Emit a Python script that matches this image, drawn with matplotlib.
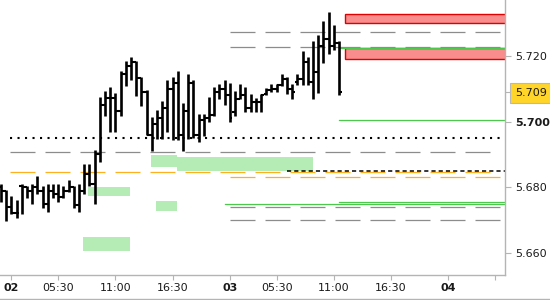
import matplotlib
matplotlib.use('Agg')
import matplotlib.pyplot as plt
from matplotlib.lines import Line2D
from matplotlib.patches import Rectangle

plt.rcParams['font.family'] = ['DejaVu Sans']
plt.rcParams['lines.scale_dashes'] = False

# OHLC bars (30 min)
opens = [5.6800, 5.6790, 5.6741, 5.6723, 5.6805, 5.6800, 5.6790, 5.6800, 5.6790, 5.6750,
         5.6790, 5.6780, 5.6770, 5.6790, 5.6800, 5.6745, 5.6790, 5.6840, 5.6810, 5.6900,
         5.7051, 5.7072, 5.7071, 5.7033, 5.7145, 5.7169, 5.7181, 5.7133, 5.7090, 5.6960,
         5.6993, 5.7011, 5.7041, 5.7100, 5.7118, 5.6960, 5.7033, 5.7118, 5.6960, 5.7005,
         5.7010, 5.7020, 5.7090, 5.7100, 5.7080, 5.7030, 5.7070, 5.7080, 5.7040, 5.7060,
         5.7060, 5.7085, 5.7095, 5.7100, 5.7110, 5.7130, 5.7100, 5.7120, 5.7130, 5.7180,
         5.7120, 5.7150, 5.7230, 5.7250, 5.7230, 5.7240]
highs = [5.6810, 5.6792, 5.6774, 5.6762, 5.6810, 5.6804, 5.6810, 5.6835, 5.6804, 5.6810,
         5.6810, 5.6810, 5.6804, 5.6822, 5.6804, 5.6810, 5.6871, 5.6871, 5.6914, 5.7076,
         5.7094, 5.7106, 5.7087, 5.7155, 5.7184, 5.7198, 5.7185, 5.7137, 5.7096, 5.7015,
         5.7035, 5.7064, 5.7125, 5.7137, 5.7155, 5.7056, 5.7145, 5.7125, 5.7023, 5.7023,
         5.7076, 5.7104, 5.7114, 5.7125, 5.7118, 5.7093, 5.7114, 5.7105, 5.7083, 5.7073,
         5.7083, 5.7101, 5.7114, 5.7114, 5.7146, 5.7136, 5.7115, 5.7144, 5.7215, 5.7198,
         5.7245, 5.7264, 5.7306, 5.7334, 5.7294, 5.7245]
lows = [5.6756, 5.6696, 5.6719, 5.6707, 5.6719, 5.6768, 5.6749, 5.6780, 5.6737, 5.6725,
        5.6768, 5.6756, 5.6768, 5.6787, 5.6737, 5.6725, 5.6780, 5.6804, 5.6749, 5.6878,
        5.7017, 5.6969, 5.6969, 5.7017, 5.7108, 5.7125, 5.7078, 5.7048, 5.6958, 5.6909,
        5.6946, 5.6946, 5.6969, 5.6944, 5.6944, 5.6909, 5.6946, 5.6949, 5.6939, 5.6956,
        5.7000, 5.7017, 5.7068, 5.7051, 5.7000, 5.7018, 5.7069, 5.7030, 5.7030, 5.7030,
        5.7030, 5.7081, 5.7089, 5.7091, 5.7109, 5.7085, 5.7069, 5.7111, 5.7111, 5.7111,
        5.7069, 5.7086, 5.7177, 5.7205, 5.7218, 5.7081]
closes = [5.6790, 5.6741, 5.6723, 5.6723, 5.6800, 5.6790, 5.6800, 5.6790, 5.6750, 5.6790,
          5.6780, 5.6770, 5.6790, 5.6800, 5.6745, 5.6790, 5.6840, 5.6810, 5.6900, 5.7051,
          5.7072, 5.7071, 5.7033, 5.7145, 5.7169, 5.7181, 5.7133, 5.7090, 5.6960, 5.6993,
          5.7011, 5.7041, 5.7100, 5.7118, 5.6960, 5.7033, 5.7118, 5.6960, 5.7005, 5.7010,
          5.7020, 5.7090, 5.7100, 5.7080, 5.7010, 5.7070, 5.7080, 5.7040, 5.7060, 5.7060,
          5.7080, 5.7095, 5.7100, 5.7110, 5.7130, 5.7100, 5.7090, 5.7130, 5.7180, 5.7120,
          5.7150, 5.7230, 5.7250, 5.7230, 5.7240, 5.7090]
last_price = 5.709

# x axis (bar index)
tick_idx = [2, 11, 22, 33, 44, 53, 64, 75, 86, 95]
tick_lbl = ['02', '05:30', '11:00', '16:30', '03', '05:30', '11:00', '16:30', '04', '']
day_lbl = ['02', '03', '04']
price_ticks = [5.660, 5.680, 5.700, 5.720]

# levels: (price, start idx, end idx)
dotted_lvl = [(5.6949, 1.7, 96.0)]
gray_lvls = [(5.6907, 1.7, 96.0), (5.7272, 44.0, 96.0), (5.7226, 44.0, 96.0),
             (5.6741, 44.0, 96.0), (5.6700, 44.0, 96.0)]
orange_lvls = [(5.6846, 1.7, 96.0), (5.6831, 44.0, 96.0)]
black_dash_lvls = [(5.6849, 55.0, 97.0)]
green_lvls = [(5.6750, 43.1, 97.0), (5.6755, 65.0, 97.0), (5.7005, 65.0, 97.0), (5.7223, 65.0, 97.0)]

# zones: (start idx, end idx, low, high)
red_zones = [(66.2, 97.0, 5.7301, 5.7328), (66.2, 97.0, 5.7191, 5.7224)]
green_zones = [(16.7, 24.8, 5.6772, 5.6801), (15.8, 24.8, 5.6607, 5.6649),
               (28.8, 33.8, 5.6863, 5.6898), (33.8, 60.0, 5.6850, 5.6893),
               (29.8, 33.8, 5.6729, 5.6759)]

fig = plt.figure(figsize=(5.5, 3.0), dpi=100)
ax = fig.add_axes([0, 25 / 300, 505 / 550, 275 / 300])

for x0, x1, lo, hi in green_zones:
    ax.add_patch(Rectangle((x0, lo), x1 - x0, hi - lo, facecolor='#B5EBB5',
                           edgecolor='none', zorder=1))
for x0, x1, lo, hi in red_zones:
    ax.add_patch(Rectangle((x0, lo), x1 - x0, hi - lo, facecolor='#F98C8C',
                           edgecolor='#E00000', linewidth=1, zorder=2))

for p, a, b in gray_lvls:
    ax.plot([a, b], [p, p], color='#8C8C8C', lw=0.9, ls=(0, (18, 7.2)), zorder=2)
for p, a, b in orange_lvls:
    ax.plot([a, b], [p, p], color='#FFB01E', lw=0.9, ls=(0, (18, 7.2)), zorder=2)
for p, a, b in black_dash_lvls:
    ax.plot([a, b], [p, p], color='black', lw=1.1, ls=(0, (3, 2.2)), zorder=2)
for p, a, b in green_lvls:
    ax.plot([a, b], [p, p], color='#4CC84C', lw=0.9, zorder=2)
for p, a, b in dotted_lvl:
    ax.plot([a, b], [p, p], color='black', lw=1.5, ls=(0, (1.5, 3.9)), zorder=2)

# HLOC bars
xs = list(range(len(highs)))
ax.vlines(xs, lows, highs, color='black', lw=1.9, zorder=3)
ax.hlines(opens, [x - 0.5 for x in xs], xs, color='black', lw=1.5, zorder=3)
ax.hlines(closes, xs, [x + 0.5 for x in xs], color='black', lw=1.5, zorder=3)

ax.set_xlim(-0.19, 96.9)
ax.set_ylim(5.6533, 5.7370)

for s in ['top', 'left']:
    ax.spines[s].set_visible(False)
for s in ['right', 'bottom']:
    ax.spines[s].set_color('#B4B4B4')
    ax.spines[s].set_linewidth(1.0)

ax.set_xticks(tick_idx)
ax.set_xticklabels(tick_lbl, fontsize=8, color='#1A1A1A')
for t in ax.get_xticklabels():
    if t.get_text() in day_lbl:
        t.set_fontweight('bold')
ax.tick_params(axis='x', length=3.5, color='#B4B4B4', pad=2)

ax.yaxis.tick_right()
ax.set_yticks(price_ticks + [last_price])
ax.set_yticklabels(['5.660', '5.680', '5.700', '5.720', '5.709'], fontsize=8, color='#1A1A1A')
ax.tick_params(axis='y', length=4, color='#B4B4B4', pad=3)
ylabels = ax.get_yticklabels()
ylabels[2].set_fontweight('bold')
ylabels[4].set_bbox(dict(boxstyle='square,pad=0.45', facecolor='#FFD52A', edgecolor='#B8B8B8', lw=0.8))
ax.yaxis.get_major_ticks()[4].tick2line.set_color('black')

fig.add_artist(Line2D([0, 1], [0.002, 0.002], color='#B4B4B4', lw=1.0))

fig.savefig('out.png', dpi=100, facecolor='white')
